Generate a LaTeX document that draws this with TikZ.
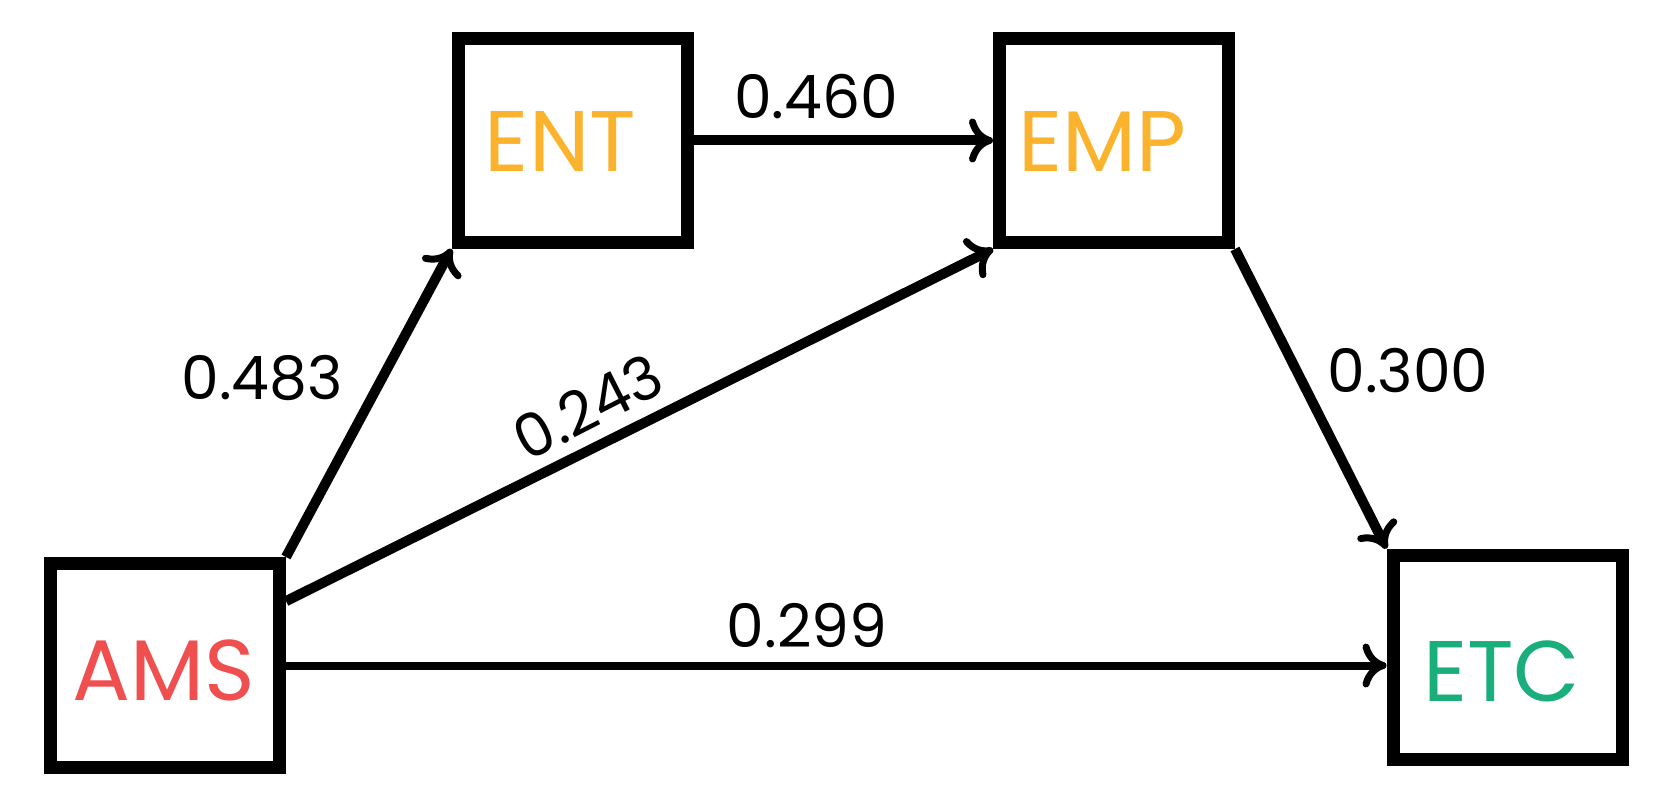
\documentclass[tikz,border=0pt]{standalone}
\usepackage{fontspec}
\setmainfont{Poppins}
\usetikzlibrary{arrows.meta}
\definecolor{amsred}{HTML}{EF4F4F}
\definecolor{entyel}{HTML}{FBB32E}
\definecolor{etcgreen}{HTML}{1AAE7B}
\tikzset{
  varbox/.style={draw=black, line width=13pt, minimum width=229pt, minimum height=204pt, inner sep=0pt, fill=white},
  vartext/.style={font=\fontsize{86}{90}\selectfont, inner sep=0pt},
  coef/.style={font=\fontsize{60}{64}\selectfont, inner sep=0pt, text=black},
  conn/.style={line width=10pt, -{Computer Modern Rightarrow[length=24pt, width=44pt, line width=7pt]}}
}
\begin{document}
\begin{tikzpicture}[x=1pt, y=-1pt]
\useasboundingbox (0,0) rectangle (1670,810);
\node[varbox] (AMS) at (165,665.5) {};
\node[varbox] (ENT) at (572.5,140.5) {};
\node[varbox] (EMP) at (1114,140.5) {};
\node[varbox] (ETC) at (1507.5,657) {};
\node[vartext, text=amsred] (AMSt) at (164,670) {AMS};
\node[vartext, text=entyel] (ENTt) at (560.5,141.5) {ENT};
\node[vartext, text=entyel] (EMPt) at (1102.5,141.5) {EMP};
\node[vartext, text=etcgreen] (ETCt) at (1501.5,671) {ETC};
\draw[conn] (AMS.north east) -- (ENT.south west);
\draw[conn] (AMS.28.4) -- (EMP.south west);
\draw[conn, line width=8pt] (AMS.east) -- (AMS.east -| ETC.west);
\draw[conn] (ENT.east) -- (EMP.west);
\draw[conn] (EMP.south east) -- (ETC.north west);
\node[coef] (c460) at (816,96.5) {0.460};
\node[coef] (c483) at (262,378) {0.483};
\node[coef, rotate=27] (c243) at (588,407) {0.243};
\node[coef] (c300) at (1408,371) {0.300};
\node[coef] (c299) at (807,626) {0.299};
\end{tikzpicture}
\end{document}
